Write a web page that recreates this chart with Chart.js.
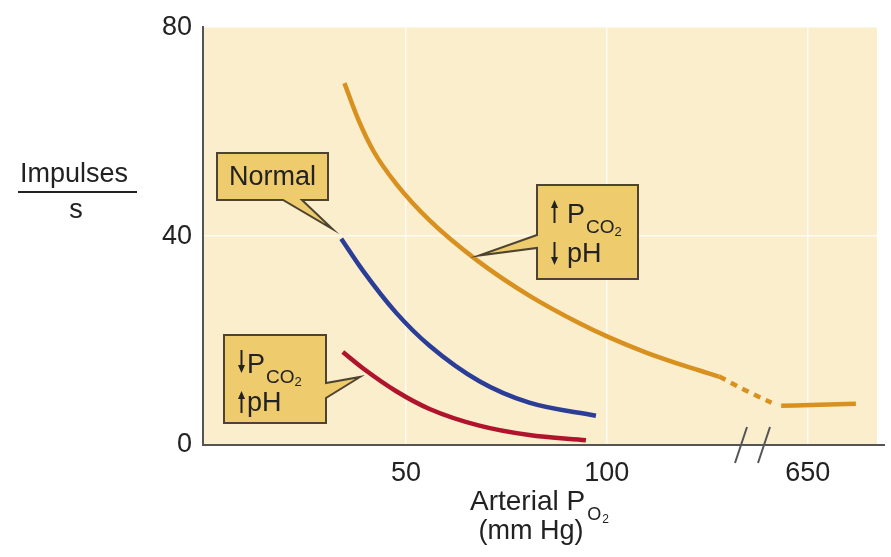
<!DOCTYPE html>
<html>
<head>
<meta charset="utf-8">
<script src="https://cdn.jsdelivr.net/npm/chart.js@4/dist/chart.umd.min.js"></script>
<style>
  html, body { margin: 0; padding: 0; background: #fff; }
  #wrap { width: 891px; height: 557px; }
</style>
</head>
<body>
<div id="wrap"><canvas id="chart"></canvas></div>
<script>
// x is the position on the broken axis: right of the break, 150 stands for 650 mm Hg
const normalX = [33.9, 39.3, 47.6, 55.9, 68.3, 80.7, 97.3];
const normalY = [39.5, 33.4, 25.3, 19.0, 12.2, 8.1, 5.6];

const lowCo2X = [34.3, 39.3, 47.6, 55.9, 68.3, 80.7, 94.8];
const lowCo2Y = [17.8, 14.7, 10.3, 6.9, 3.7, 1.9, 0.9];

const highCo2X = [34.7, 38, 42, 47.6, 55.9, 67.8, 80.7, 93.2, 100.6, 109.8, 120, 128];
const highCo2Y = [69.3, 62.6, 56.2, 50.0, 43.0, 35.3, 28.6, 23.3, 20.6, 17.7, 15.0, 13.1];
const breakX = [128, 134.7, 141];
const breakY = [13.1, 10.4, 8.1];
const highTailX = [143.4, 152.9, 162];
const highTailY = [7.5, 7.7, 7.9];

const xTicks = [50, 100, 150];
const xTickLabels = ["50", "100", "650"];
const yTicks = [0, 40, 80];

const ORANGE = "#d8911f";
const BLUE = "#2b3d96";
const RED = "#b0142d";
const BOX = "#eecb6c";
const EDGE = "#4d4330";
const FONT = '"Liberation Sans", Arial, sans-serif';

function pts(xs, ys) {
  return xs.map((x, i) => ({ x: x, y: ys[i] }));
}

function line(data, color, extra) {
  return Object.assign({
    data: data,
    borderColor: color,
    borderWidth: 4.5,
    showLine: true,
    pointRadius: 0,
    cubicInterpolationMode: "monotone",
    borderCapStyle: "butt",
  }, extra || {});
}

function arrow(ctx, x, y1, y2, up) {
  ctx.save();
  ctx.strokeStyle = "#222";
  ctx.fillStyle = "#222";
  ctx.lineWidth = 2;
  const tip = up ? y1 : y2;
  const d = up ? 1 : -1;
  ctx.beginPath();
  ctx.moveTo(x, up ? y1 + 6 : y1);
  ctx.lineTo(x, up ? y2 : y2 - 6);
  ctx.stroke();
  ctx.beginPath();
  ctx.moveTo(x, tip);
  ctx.lineTo(x - 3.5, tip + d * 8);
  ctx.lineTo(x + 3.5, tip + d * 8);
  ctx.closePath();
  ctx.fill();
  ctx.restore();
}

function shape(ctx, poly) {
  ctx.beginPath();
  poly.forEach((p, i) => (i ? ctx.lineTo(p[0], p[1]) : ctx.moveTo(p[0], p[1])));
  ctx.closePath();
  ctx.fillStyle = BOX;
  ctx.fill();
  ctx.strokeStyle = EDGE;
  ctx.lineWidth = 2;
  ctx.lineJoin = "miter";
  ctx.stroke();
}

// main letter with a two-level subscript, placed one after the other
function subText(ctx, x, base, main, mainSize, sub, subSize, num, numSize) {
  ctx.fillStyle = "#222";
  ctx.textAlign = "left";
  ctx.textBaseline = "alphabetic";
  ctx.font = mainSize + "px " + FONT;
  ctx.fillText(main, x, base);
  x += ctx.measureText(main).width + 1;
  ctx.font = subSize + "px " + FONT;
  ctx.fillText(sub, x, base + subSize * 0.55);
  x += ctx.measureText(sub).width;
  ctx.font = numSize + "px " + FONT;
  ctx.fillText(num, x, base + subSize * 0.55 + 3);
}

const decor = {
  id: "decor",
  beforeDraw(chart) {
    const { ctx, chartArea: a } = chart;
    ctx.save();
    ctx.fillStyle = "#faeecd";
    ctx.fillRect(a.left, a.top, a.right - a.left - 3, a.bottom - a.top);
    ctx.restore();
  },
  afterDraw(chart) {
    const { ctx, chartArea: a } = chart;
    ctx.save();

    // axis line runs past the plot, with break marks
    ctx.strokeStyle = "#555";
    ctx.lineWidth = 2;
    ctx.beginPath();
    ctx.moveTo(a.right - 2, a.bottom);
    ctx.lineTo(885, a.bottom);
    ctx.stroke();
    ctx.beginPath();
    ctx.moveTo(735, 463); ctx.lineTo(747, 427);
    ctx.moveTo(758, 463); ctx.lineTo(770, 427);
    ctx.stroke();

    // callouts
    shape(ctx, [[217, 153], [328, 153], [328, 200], [302, 200], [332.5, 229], [283, 200], [217, 200]]);
    ctx.fillStyle = "#222";
    ctx.font = "27px " + FONT;
    ctx.textAlign = "center";
    ctx.fillText("Normal", 272.5, 185);

    shape(ctx, [[224, 335], [326, 335], [326, 383], [360, 377], [326, 398], [326, 423], [224, 423]]);
    arrow(ctx, 241.5, 350, 373, false);
    subText(ctx, 247, 373, "P", 27, "CO", 19, "2", 13);
    arrow(ctx, 241.5, 391, 413, true);
    ctx.font = "27px " + FONT;
    ctx.fillText("pH", 247, 411);

    shape(ctx, [[537, 185], [638, 185], [638, 279], [537, 279], [537, 248], [479, 255.5], [537, 235]]);
    arrow(ctx, 554.5, 200, 223, true);
    subText(ctx, 567, 223, "P", 27, "CO", 19, "2", 13);
    arrow(ctx, 554.5, 242, 265, false);
    ctx.font = "27px " + FONT;
    ctx.fillText("pH", 567, 262);

    // y title
    ctx.fillStyle = "#222";
    ctx.textAlign = "center";
    ctx.font = "27px " + FONT;
    ctx.fillText("Impulses", 74, 182);
    ctx.fillText("s", 76, 218);
    ctx.fillRect(18, 191, 119, 2);

    // x title
    ctx.font = "28px " + FONT;
    ctx.textAlign = "left";
    ctx.fillText("Arterial P", 470, 510);
    const w = ctx.measureText("Arterial P").width;
    ctx.font = "18px " + FONT;
    ctx.fillText("O", 470 + w + 2, 520);
    const wo = ctx.measureText("O").width;
    ctx.font = "12px " + FONT;
    ctx.fillText("2", 470 + w + 2 + wo + 1, 523);
    ctx.font = "27px " + FONT;
    ctx.textAlign = "center";
    ctx.fillText("(mm Hg)", 531, 539);

    ctx.restore();
  },
};

new Chart(document.getElementById("chart"), {
  type: "scatter",
  data: {
    datasets: [
      line(pts(highCo2X, highCo2Y), ORANGE),
      line(pts(breakX, breakY), ORANGE, { borderDash: [7, 6] }),
      line(pts(highTailX, highTailY), ORANGE),
      line(pts(normalX, normalY), BLUE),
      line(pts(lowCo2X, lowCo2Y), RED),
    ],
  },
  options: {
    responsive: true,
    maintainAspectRatio: false,
    animation: false,
    layout: { padding: { top: 18, right: 11, left: 0, bottom: 0 } },
    plugins: {
      legend: { display: false },
      tooltip: { enabled: false },
    },
    scales: {
      x: {
        type: "linear",
        min: -0.5,
        max: 168,
        afterFit(scale) { scale.height = 112; },
        afterBuildTicks(scale) { scale.ticks = xTicks.map(v => ({ value: v })); },
        ticks: {
          padding: 12,
          color: "#222",
          font: { size: 27, family: FONT },
          callback: (v) => xTickLabels[xTicks.indexOf(v)],
        },
        grid: { color: "rgba(255,255,255,0.75)", lineWidth: 1.5, drawTicks: false },
        border: { color: "#555", width: 2 },
      },
      y: {
        min: 0,
        max: 80,
        afterFit(scale) { scale.width = 203; },
        afterBuildTicks(scale) { scale.ticks = yTicks.map(v => ({ value: v })); },
        ticks: {
          padding: 11,
          color: "#222",
          font: { size: 27, family: FONT },
        },
        grid: { color: "rgba(255,255,255,0.75)", lineWidth: 1.5, drawTicks: false },
        border: { color: "#555", width: 2 },
      },
    },
  },
  plugins: [decor],
});
</script>
</body>
</html>
